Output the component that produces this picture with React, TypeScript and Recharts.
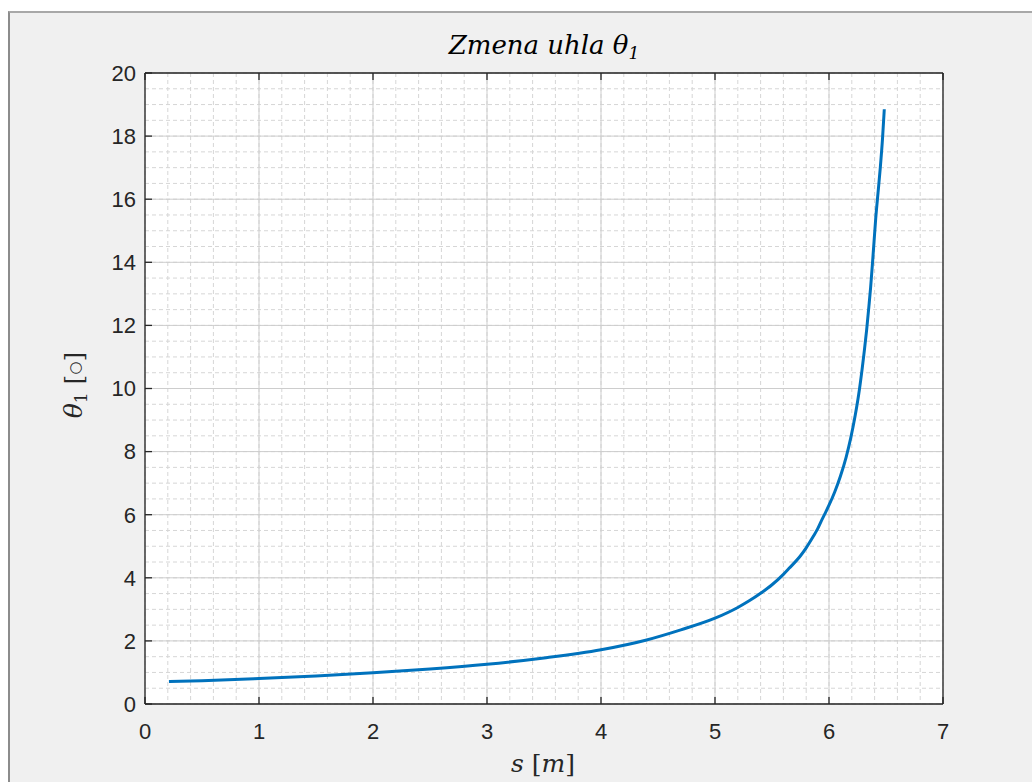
import React from 'react';
import { LineChart, Line, XAxis, YAxis, CartesianGrid } from 'recharts';

const sValues = [0.21, 0.5, 1.0, 1.5, 2.0, 2.5, 3.0, 3.5, 4.0, 4.4, 4.7, 5.0, 5.2, 5.3, 5.4, 5.5, 5.6, 5.65, 5.75, 5.8, 5.86, 5.9, 5.93, 5.96, 6.0, 6.05, 6.1, 6.15, 6.19, 6.23, 6.26, 6.29, 6.31, 6.33, 6.35, 6.365, 6.38, 6.395, 6.41, 6.43, 6.45, 6.47, 6.485];
const thetaValues = [0.71, 0.74, 0.81, 0.89, 0.99, 1.11, 1.26, 1.46, 1.72, 2.03, 2.35, 2.72, 3.06, 3.27, 3.51, 3.78, 4.11, 4.3, 4.7, 4.95, 5.3, 5.55, 5.78, 6.0, 6.3, 6.72, 7.22, 7.82, 8.42, 9.15, 9.8, 10.6, 11.2, 11.85, 12.6, 13.2, 13.9, 14.65, 15.4, 16.2, 17.0, 17.95, 18.85];

const xTicks = [0, 1, 2, 3, 4, 5, 6, 7];
const yTicks = [0, 2, 4, 6, 8, 10, 12, 14, 16, 18, 20];

const xMinor: number[] = [];
for (let i = 0; i <= 35; i++) xMinor.push(Math.round(i * 0.2 * 10) / 10);
const yMinor: number[] = [];
for (let i = 0; i <= 40; i++) yMinor.push(i * 0.5);

const data = sValues.map((s, i) => ({ s, theta: thetaValues[i] }));

const W = 1032;
const H = 782;
const MARGIN = { top: 72, right: 88, bottom: 38, left: 85 };
const Y_AXIS_W = 60;
const X_AXIS_H = 40;
const TOP_AXIS_H = 1;
const RIGHT_AXIS_W = 1;
const PLOT_LEFT = MARGIN.left + Y_AXIS_W;
const PLOT_RIGHT = W - MARGIN.right - RIGHT_AXIS_W;
const PLOT_TOP = MARGIN.top + TOP_AXIS_H;
const PLOT_BOTTOM = H - MARGIN.bottom - X_AXIS_H;

const axisColor = '#262626';
const TICK_LEN = 7;
const fontSans = 'Liberation Sans, Arial, sans-serif';
const fontSerif = 'DejaVu Serif, serif';

const BottomTick = (props: any) => {
  const { x, payload } = props;
  return (
    <g>
      <line x1={x} y1={PLOT_BOTTOM} x2={x} y2={PLOT_BOTTOM - TICK_LEN} stroke={axisColor} strokeWidth={1.3} />
      <text x={x} y={PLOT_BOTTOM + 19} dy="0.71em" textAnchor="middle" fontFamily={fontSans} fontSize={22} fill="#262626">
        {payload.value}
      </text>
    </g>
  );
};

const LeftTick = (props: any) => {
  const { y, payload } = props;
  return (
    <g>
      <line x1={PLOT_LEFT} y1={y} x2={PLOT_LEFT + TICK_LEN} y2={y} stroke={axisColor} strokeWidth={1.3} />
      <text x={PLOT_LEFT - 9} y={y} dy="0.355em" textAnchor="end" fontFamily={fontSans} fontSize={22} fill="#262626">
        {payload.value}
      </text>
    </g>
  );
};

const TopTick = (props: any) => {
  const { x } = props;
  return <line x1={x} y1={PLOT_TOP} x2={x} y2={PLOT_TOP + TICK_LEN} stroke={axisColor} strokeWidth={1.3} />;
};

const RightTick = (props: any) => {
  const { y } = props;
  return <line x1={PLOT_RIGHT} y1={y} x2={PLOT_RIGHT - TICK_LEN} y2={y} stroke={axisColor} strokeWidth={1.3} />;
};

export default function App() {
  return (
    <div style={{ position: 'absolute', left: 0, top: 0, width: W, height: H, background: '#ffffff', overflow: 'hidden' }}>
      <div style={{ position: 'absolute', left: 8, top: 11, width: W - 8, height: H - 11, background: '#f0f0f0', borderTop: '2px solid #a8a8a8', borderLeft: '2px solid #8c8c8c', boxSizing: 'border-box' }} />
      <div style={{ position: 'absolute', left: PLOT_LEFT, top: PLOT_TOP, width: PLOT_RIGHT - PLOT_LEFT, height: PLOT_BOTTOM - PLOT_TOP, background: '#ffffff' }} />
      <LineChart
        width={W}
        height={H}
        data={data}
        margin={MARGIN}
        style={{ position: 'absolute', left: 0, top: 0 }}
      >
        <CartesianGrid
          stroke="#d6d6d6"
          strokeDasharray="4 3"
          horizontalValues={yMinor}
          verticalValues={xMinor}
          fill="none"
        />
        <CartesianGrid
          stroke="#cdcdcd"
          horizontalValues={yTicks}
          verticalValues={xTicks}
          fill="none"
        />
        <XAxis
          dataKey="s"
          type="number"
          domain={[0, 7]}
          ticks={xTicks}
          allowDataOverflow
          height={X_AXIS_H}
          stroke={axisColor}
          strokeWidth={1.3}
          tickLine={false}
          tick={<BottomTick />}
          interval={0}
        />
        <XAxis
          xAxisId="top"
          orientation="top"
          dataKey="s"
          type="number"
          domain={[0, 7]}
          ticks={xTicks}
          height={TOP_AXIS_H}
          stroke={axisColor}
          strokeWidth={1.3}
          tickLine={false}
          tick={<TopTick />}
          interval={0}
        />
        <YAxis
          type="number"
          domain={[0, 20]}
          ticks={yTicks}
          width={Y_AXIS_W}
          stroke={axisColor}
          strokeWidth={1.3}
          tickLine={false}
          tick={<LeftTick />}
          interval={0}
        />
        <YAxis
          yAxisId="right"
          orientation="right"
          type="number"
          domain={[0, 20]}
          ticks={yTicks}
          width={RIGHT_AXIS_W}
          stroke={axisColor}
          strokeWidth={1.3}
          tickLine={false}
          tick={<RightTick />}
          interval={0}
        />
        <Line
          type="monotone"
          dataKey="theta"
          stroke="#0072BD"
          strokeWidth={3}
          dot={false}
          isAnimationActive={false}
        />
      </LineChart>
      <svg width={W} height={H} style={{ position: 'absolute', left: 0, top: 0, pointerEvents: 'none' }}>
        <text x={544} y={54} textAnchor="middle" fontFamily={fontSerif} fontStyle="italic" fontSize={26} fill="#000">
          Zmena uhla θ<tspan fontSize={17} dy={5}>1</tspan>
        </text>
        <text x={543} y={772} textAnchor="middle" fontFamily={fontSerif} fontSize={25} fill="#262626">
          <tspan fontStyle="italic">s</tspan>
          <tspan dx={8}>[</tspan>
          <tspan fontStyle="italic">m</tspan>
          <tspan>]</tspan>
        </text>
        <text x={0} y={0} transform="translate(82,385) rotate(-90)" textAnchor="middle" fontFamily={fontSerif} fontSize={25} fill="#262626">
          <tspan fontStyle="italic">θ</tspan>
          <tspan fontSize={17} dy={5}>1</tspan>
          <tspan dy={-5} dx={8}>[</tspan>
          <tspan fontFamily="DejaVu Sans, sans-serif" fontSize={15} dy={-2}>○</tspan>
          <tspan dy={2}>]</tspan>
        </text>
      </svg>
    </div>
  );
}
